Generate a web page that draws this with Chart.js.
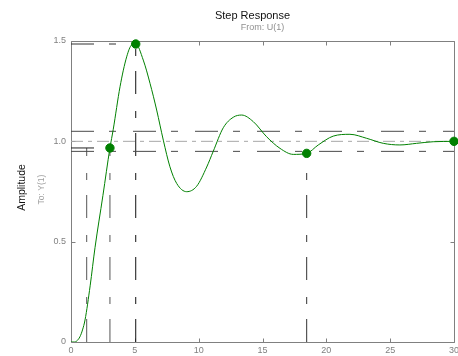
<!DOCTYPE html>
<html>
<head>
<meta charset="utf-8">
<script src="https://cdn.jsdelivr.net/npm/chart.js@4.4.1/dist/chart.umd.min.js"></script>
<style>
html,body{margin:0;padding:0;background:#fff;}
#wrap{position:relative;width:458px;height:356px;}
</style>
</head>
<body>
<div id="wrap"><canvas id="c" width="458" height="356"></canvas></div>
<script>
// ---- data ----
const titleText = "Step Response";
const subtitleText = "From: U(1)";
const yTitle = "Amplitude";
const ySubTitle = "To: Y(1)";

const timeS = [0, 0.3, 0.45, 0.7, 0.9, 1.1, 1.5, 1.88, 2.5, 3.05, 3.31, 3.84, 4.36, 4.75, 5.07, 5.66, 6.19, 6.71, 7.23, 7.75, 8.28, 9.06, 9.84, 10.63, 11.14, 11.93, 12.71, 13.37, 14.28, 15.32, 16.37, 17.41, 18.46, 19.37, 20.54, 21.85, 23.16, 24.46, 25.76, 27.07, 28.37, 30];
const amplitude = [0, 0, 0.005, 0.026, 0.06, 0.11, 0.28, 0.47, 0.73, 0.967, 1.06, 1.272, 1.421, 1.48, 1.485, 1.405, 1.289, 1.156, 1.006, 0.873, 0.79, 0.749, 0.776, 0.872, 0.95, 1.068, 1.12, 1.131, 1.098, 1.023, 0.965, 0.935, 0.940, 0.982, 1.026, 1.035, 1.015, 0.99, 0.982, 0.99, 0.998, 1.0];

const markerTimes = [3.05, 5.07, 18.46, 30];
const markerAmps  = [0.967, 1.485, 0.94, 1.0];

const riseLowTime = 1.23, riseTime = 3.05, riseAmp = 0.967;
const peakTime = 5.07, peakAmp = 1.485;
const settleTime = 18.46, settleAmp = 0.94;
const finalValue = 1.0, bandHigh = 1.05, bandLow = 0.95;
const tMax = 30;

const xTicks = [0, 5, 10, 15, 20, 25, 30];
const yTicks = [0, 0.5, 1, 1.5];

// ---- build datasets ----
const green = '#008000';
const dashDot = [23, 15, 7, 17];
function seg(p1, p2, color, dash, width) {
  return {type: 'line', data: [p1, p2], borderColor: color, borderWidth: width || 1,
    borderDash: dash, pointRadius: 0, fill: false, tension: 0, clip: false, order: 2};
}
const curve = timeS.map((t, i) => ({x: t, y: amplitude[i]}));
const markers = markerTimes.map((t, i) => ({x: t, y: markerAmps[i]}));

const datasets = [
  {type: 'line', data: curve, borderColor: green, borderWidth: 1, pointRadius: 0,
   cubicInterpolationMode: 'monotone', fill: false, order: 1},
  {type: 'scatter', data: markers, backgroundColor: green, borderColor: green,
   pointRadius: 4.2, pointHoverRadius: 4.2, clip: false, order: 0},
  seg({x: 0, y: finalValue}, {x: tMax, y: finalValue}, '#a8a8a8', [12, 5, 4, 5]),
  seg({x: 0, y: bandHigh}, {x: tMax, y: bandHigh}, '#4a4a4a', dashDot),
  seg({x: 0, y: bandLow}, {x: tMax, y: bandLow}, '#4a4a4a', dashDot),
  seg({x: 0, y: riseAmp}, {x: riseTime, y: riseAmp}, '#222', dashDot),
  seg({x: riseLowTime, y: 0}, {x: riseLowTime, y: riseAmp}, '#555', dashDot),
  seg({x: riseTime, y: 0}, {x: riseTime, y: riseAmp}, '#555', dashDot),
  seg({x: 0, y: peakAmp}, {x: peakTime, y: peakAmp}, '#333', dashDot),
  seg({x: peakTime, y: 0}, {x: peakTime, y: peakAmp}, '#111', dashDot),
  seg({x: settleTime, y: 0}, {x: settleTime, y: settleAmp}, '#333', dashDot)
];

// ---- frame, inward ticks and texts ----
const framePlugin = {
  id: 'frame',
  beforeDatasetsDraw(chart) {
    const ctx = chart.ctx, a = chart.chartArea;
    const xs = chart.scales.x, ys = chart.scales.y;
    ctx.save();
    ctx.strokeStyle = '#808080';
    ctx.lineWidth = 1;
    ctx.beginPath();
    const L = Math.round(a.left) + 0.5, R = Math.round(a.right) + 0.5;
    const T = Math.round(a.top) + 0.5, B = Math.round(a.bottom) + 0.5;
    ctx.rect(L, T, R - L, B - T);
    xTicks.forEach(v => {
      const px = Math.round(xs.getPixelForValue(v)) + 0.5;
      ctx.moveTo(px, B); ctx.lineTo(px, B - 4);
      ctx.moveTo(px, T); ctx.lineTo(px, T + 4);
    });
    yTicks.forEach(v => {
      const py = Math.round(ys.getPixelForValue(v)) + 0.5;
      ctx.moveTo(L, py); ctx.lineTo(L + 4, py);
      ctx.moveTo(R, py); ctx.lineTo(R - 4, py);
    });
    ctx.stroke();
    ctx.restore();
  },
  afterDraw(chart) {
    const ctx = chart.ctx, a = chart.chartArea;
    const cx = (a.left + a.right) / 2 - 10;
    const cy = (a.top + a.bottom) / 2 - 4;
    ctx.save();
    ctx.textAlign = 'center';
    ctx.textBaseline = 'alphabetic';
    ctx.fillStyle = '#111';
    ctx.font = '11px "Liberation Sans", Arial, sans-serif';
    ctx.fillText(titleText, cx, 19);
    ctx.fillStyle = '#909090';
    ctx.font = '9px "Liberation Sans", Arial, sans-serif';
    ctx.fillText(subtitleText, cx + 10, 30);
    ctx.translate(25, cy);
    ctx.rotate(-Math.PI / 2);
    ctx.fillStyle = '#111';
    ctx.font = '10.5px "Liberation Sans", Arial, sans-serif';
    ctx.fillText(yTitle, 0, 0);
    ctx.restore();
    ctx.save();
    ctx.translate(44, cy + 2);
    ctx.rotate(-Math.PI / 2);
    ctx.textAlign = 'center';
    ctx.fillStyle = '#a0a0a0';
    ctx.font = '8.5px "Liberation Sans", Arial, sans-serif';
    ctx.fillText(ySubTitle, 0, 0);
    ctx.restore();
  }
};

new Chart(document.getElementById('c'), {
  data: {datasets},
  options: {
    responsive: false,
    animation: false,
    events: [],
    layout: {padding: {top: 41, right: 4, left: 0, bottom: 0}, autoPadding: false},
    plugins: {legend: {display: false}, tooltip: {enabled: false}, title: {display: false}},
    scales: {
      x: {
        type: 'linear', min: 0, max: tMax,
        afterBuildTicks(s) { s.ticks = xTicks.map(v => ({value: v})); },
        afterFit(s) { s.height = 14; s.paddingLeft = 0; s.paddingRight = 0; },
        grid: {display: false, drawTicks: false},
        border: {display: false},
        ticks: {color: '#808080', padding: 3, maxRotation: 0, autoSkip: false,
                font: {family: '"Liberation Sans", Arial, sans-serif', size: 9}}
      },
      y: {
        type: 'linear', min: 0, max: 1.5,
        afterBuildTicks(s) { s.ticks = yTicks.map(v => ({value: v})); },
        afterFit(s) { s.width = 71; s.paddingTop = 0; s.paddingBottom = 0; },
        grid: {display: false, drawTicks: false},
        border: {display: false},
        ticks: {color: '#808080', padding: 5, autoSkip: false,
                font: {family: '"Liberation Sans", Arial, sans-serif', size: 9}}
      }
    }
  },
  plugins: [framePlugin]
});
</script>
</body>
</html>
